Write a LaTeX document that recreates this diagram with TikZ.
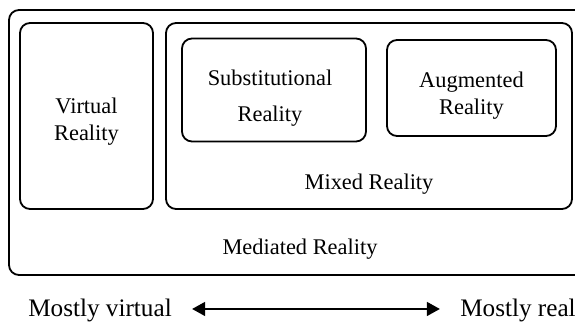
\documentclass[tikz,border=0pt]{standalone}
\usepackage{fontspec}
\setmainfont{Liberation Serif}
\usetikzlibrary{arrows.meta,positioning,calc}

\begin{document}
\begin{tikzpicture}[
  x=0.5pt, y=-0.5pt,
  >={Triangle[length=6.5pt,width=7pt]},
  realm/.style={draw, line width=0.9pt, rounded corners=5pt, inner sep=0pt},
  txt/.style={font=\fontsize{11.2}{13.5}\selectfont, align=center, inner sep=0pt},
  side/.style={font=\fontsize{12.6}{14}\selectfont, inner sep=0pt, anchor=base}
]
\useasboundingbox (0,0) rectangle (575,322);

% Outer mediated reality box (runs off the right edge)
\node[realm, minimum width=291pt, minimum height=132.5pt] (mediated) at (300,142.5) {};
\node[txt] (medtxt) at ([yshift=13.5pt]mediated.south) {Mediated Reality};

% Virtual reality
\node[realm, minimum width=66.5pt, minimum height=93pt] (virtual) at (86.5,116) {};
\node[txt] (virtxt) at ([yshift=-2.75pt]virtual.center) {Virtual\\Reality};

% Mixed reality and its two parts
\node[realm, minimum width=203pt, minimum height=93pt] (mixed) at (369,116) {};
\node[txt] (mixtxt) at ([yshift=13pt]mixed.south) {Mixed Reality};

\node[realm, minimum width=92pt, minimum height=51.5pt] (subst) at (274,90) {};
\node[txt] (subtxt) at ([xshift=-2pt,yshift=-4pt]subst.center)
  {Substitutional\\[4.5pt]Reality};

\node[realm, minimum width=84.5pt, minimum height=48pt] (augmented) at (471.5,88) {};
\node[txt] (augtxt) at ([yshift=-3.75pt]augmented.center) {Augmented\\Reality};

% Scale underneath
\node[side] (mvirtual) at (100,316) {Mostly virtual};
\node[side] (mreal) at (518,316) {Mostly real};
\draw[<->, line width=0.8pt, shorten <=10pt, shorten >=10pt]
  ([yshift=0.5pt]mvirtual.east) -- ([yshift=0.5pt]mreal.west);

\end{tikzpicture}
\end{document}
